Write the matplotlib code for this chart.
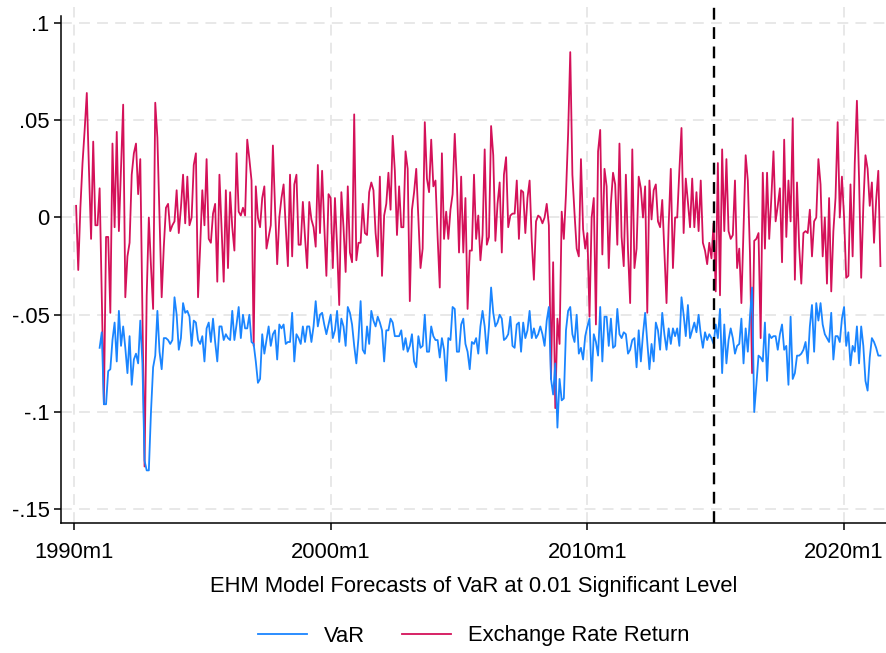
import matplotlib
matplotlib.use("Agg")
import matplotlib.pyplot as plt
import numpy as np

# ---- data (monthly, month index 0 = 1990m1) ----
ret_start = 1   # 1990m2
ret = [
 0.006,-0.027,0.005,0.028,0.045,0.064,0.025,-0.011,0.039,-0.004,
 -0.004,0.015,-0.040,-0.096,-0.010,-0.010,-0.049,0.038,-0.005,0.044,
 -0.007,0.025,0.058,-0.041,-0.020,-0.013,0.022,0.033,0.038,0.012,
 0.030,-0.050,-0.128,-0.040,0.000,-0.025,-0.047,0.059,0.041,0.000,
 -0.041,-0.015,0.005,0.007,-0.007,-0.004,-0.002,0.014,-0.008,0.005,
 0.022,-0.003,0.021,-0.004,0.000,0.027,0.033,-0.041,-0.015,0.014,
 -0.004,0.030,-0.011,-0.013,0.002,0.007,-0.033,0.022,-0.005,-0.033,
 0.014,-0.026,0.013,-0.005,-0.017,0.033,0.003,0.001,0.005,0.001,
 0.040,0.030,0.019,-0.066,0.016,0.000,-0.005,0.010,0.016,-0.016,
 -0.010,-0.004,0.037,0.005,-0.024,0.000,0.010,0.017,-0.005,-0.025,
 0.022,-0.020,0.017,0.022,-0.014,-0.014,0.008,-0.010,-0.026,0.008,
 -0.001,-0.005,-0.015,0.027,-0.008,0.024,-0.004,-0.030,0.012,0.010,
 -0.026,0.010,-0.015,-0.045,0.013,-0.005,-0.028,0.016,-0.018,-0.023,
 0.053,-0.022,-0.013,-0.013,0.007,-0.008,-0.009,0.013,0.018,0.014,
 -0.008,-0.020,0.021,-0.030,0.001,0.007,0.023,0.004,0.042,0.024,
 -0.009,0.016,-0.005,-0.005,0.034,0.025,-0.043,0.004,0.013,0.025,
 -0.001,-0.026,-0.016,0.049,0.020,0.013,0.040,0.016,0.019,-0.010,
 -0.036,0.033,-0.011,0.003,-0.011,0.004,0.012,0.043,0.018,-0.018,
 0.021,-0.018,0.010,-0.047,-0.017,-0.017,0.022,-0.011,0.001,-0.022,
 -0.009,0.035,-0.014,-0.010,0.047,0.032,-0.012,0.007,0.018,-0.018,
 0.022,0.031,-0.005,0.001,0.002,0.002,0.019,-0.011,0.014,0.013,
 -0.008,0.010,0.019,-0.012,-0.032,-0.002,0.001,0.000,-0.003,0.000,
 0.007,-0.004,-0.083,-0.023,-0.098,-0.052,-0.065,0.003,-0.011,0.012,
 0.043,0.085,0.022,0.002,-0.016,-0.020,0.030,-0.006,-0.016,-0.008,
 -0.051,0.000,0.010,-0.055,0.034,0.045,-0.019,0.025,0.016,-0.026,
 0.007,0.023,0.017,-0.014,0.038,-0.010,-0.025,0.022,-0.017,-0.044,
 0.035,-0.026,-0.016,0.021,0.015,0.000,0.016,-0.049,0.019,-0.001,
 0.014,0.017,-0.002,-0.005,0.009,-0.017,-0.044,-0.004,0.025,-0.026,
 0.000,0.000,0.024,0.046,-0.008,0.020,0.008,-0.005,0.020,-0.005,
 0.013,-0.007,0.019,-0.013,-0.017,-0.024,-0.013,-0.021,-0.003,-0.038,
 0.028,-0.040,0.035,-0.007,0.030,-0.007,-0.011,-0.009,0.019,-0.026,
 -0.016,-0.044,-0.006,0.032,0.019,-0.018,-0.080,-0.012,-0.011,-0.008,
 -0.062,0.023,-0.016,0.023,-0.011,0.010,0.034,-0.002,0.006,0.015,
 -0.023,0.040,-0.010,0.019,-0.002,0.051,-0.032,0.018,-0.015,-0.034,
 -0.008,-0.007,-0.008,0.004,-0.020,-0.002,0.000,0.030,0.017,-0.020,
 0.000,-0.034,0.010,-0.038,-0.007,0.010,0.049,0.000,0.021,0.000,
 -0.031,-0.030,0.017,-0.020,0.028,0.060,0.020,-0.031,0.006,0.032,
 0.025,0.006,0.018,-0.013,0.009,0.024,-0.025,
]

var_start = 12  # 1991m1
var = [
 -0.067,-0.059,-0.096,-0.096,-0.079,-0.078,-0.063,-0.054,-0.074,-0.048,
 -0.066,-0.056,-0.067,-0.080,-0.061,-0.086,-0.073,-0.070,-0.075,-0.053,
 -0.075,-0.125,-0.130,-0.130,-0.100,-0.077,-0.071,-0.048,-0.069,-0.078,
 -0.062,-0.062,-0.063,-0.065,-0.063,-0.041,-0.050,-0.068,-0.062,-0.044,
 -0.049,-0.048,-0.051,-0.066,-0.053,-0.054,-0.063,-0.065,-0.061,-0.074,
 -0.057,-0.054,-0.064,-0.052,-0.064,-0.074,-0.056,-0.056,-0.063,-0.060,
 -0.062,-0.063,-0.048,-0.063,-0.055,-0.046,-0.062,-0.050,-0.057,-0.057,
 -0.050,-0.064,-0.065,-0.074,-0.085,-0.083,-0.060,-0.070,-0.063,-0.056,
 -0.066,-0.060,-0.058,-0.073,-0.055,-0.057,-0.055,-0.065,-0.064,-0.064,
 -0.049,-0.074,-0.060,-0.062,-0.065,-0.056,-0.064,-0.056,-0.056,-0.064,
 -0.056,-0.043,-0.056,-0.050,-0.049,-0.055,-0.060,-0.055,-0.050,-0.062,
 -0.058,-0.048,-0.064,-0.052,-0.056,-0.066,-0.046,-0.049,-0.055,-0.066,
 -0.075,-0.062,-0.043,-0.068,-0.070,-0.056,-0.065,-0.048,-0.053,-0.056,
 -0.051,-0.054,-0.058,-0.074,-0.058,-0.058,-0.052,-0.054,-0.061,-0.061,
 -0.061,-0.058,-0.068,-0.062,-0.069,-0.066,-0.060,-0.074,-0.077,-0.061,
 -0.067,-0.066,-0.050,-0.069,-0.069,-0.056,-0.061,-0.063,-0.063,-0.072,
 -0.062,-0.068,-0.084,-0.062,-0.063,-0.046,-0.047,-0.069,-0.069,-0.055,
 -0.052,-0.065,-0.069,-0.078,-0.064,-0.065,-0.062,-0.070,-0.056,-0.048,
 -0.056,-0.070,-0.056,-0.036,-0.049,-0.056,-0.054,-0.050,-0.052,-0.063,
 -0.062,-0.060,-0.051,-0.066,-0.067,-0.055,-0.054,-0.069,-0.054,-0.062,
 -0.058,-0.048,-0.062,-0.057,-0.062,-0.060,-0.056,-0.060,-0.066,-0.053,
 -0.046,-0.083,-0.091,-0.075,-0.108,-0.083,-0.094,-0.093,-0.058,-0.048,
 -0.046,-0.060,-0.064,-0.050,-0.070,-0.067,-0.073,-0.061,-0.056,-0.052,
 -0.084,-0.060,-0.064,-0.071,-0.046,-0.074,-0.051,-0.051,-0.066,-0.052,
 -0.067,-0.066,-0.047,-0.060,-0.062,-0.059,-0.060,-0.070,-0.068,-0.063,
 -0.062,-0.077,-0.058,-0.074,-0.060,-0.049,-0.064,-0.078,-0.065,-0.074,
 -0.054,-0.058,-0.068,-0.049,-0.060,-0.068,-0.057,-0.065,-0.057,-0.061,
 -0.057,-0.066,-0.041,-0.050,-0.061,-0.045,-0.062,-0.058,-0.054,-0.059,
 -0.050,-0.060,-0.067,-0.059,-0.063,-0.060,-0.062,-0.065,-0.055,-0.062,
 -0.047,-0.080,-0.055,-0.075,-0.063,-0.057,-0.062,-0.070,-0.066,-0.065,
 -0.052,-0.075,-0.057,-0.069,-0.051,-0.036,-0.100,-0.086,-0.071,-0.072,
 -0.074,-0.054,-0.084,-0.060,-0.062,-0.061,-0.061,-0.068,-0.060,-0.055,
 -0.068,-0.066,-0.086,-0.051,-0.083,-0.080,-0.071,-0.071,-0.070,-0.068,
 -0.064,-0.075,-0.056,-0.045,-0.069,-0.044,-0.053,-0.044,-0.055,-0.060,
 -0.062,-0.064,-0.049,-0.073,-0.061,-0.061,-0.064,-0.052,-0.046,-0.066,
 -0.059,-0.076,-0.066,-0.069,-0.056,-0.075,-0.056,-0.066,-0.084,-0.089,
 -0.072,-0.062,-0.064,-0.067,-0.071,-0.071,
]

split_month = 299          # dashed reference line (2014m12)
xtick_months = [0, 120, 240, 360]
xtick_labels = ["1990m1", "2000m1", "2010m1", "2020m1"]
ytick_vals = [0.1, 0.05, 0, -0.05, -0.1, -0.15]
ytick_labels = [".1", ".05", "0", "-.05", "-.1", "-.15"]

c_var = "#1a85ff"
c_ret = "#d41159"

plt.rcParams['font.family'] = ['Liberation Sans', 'DejaVu Sans']
FS = 15.8

fig = plt.figure(figsize=(8.86, 6.53), dpi=100)
W, H = 886, 653
left_px, right_px, top_px, bot_px = 60.7, 886, 7, 523.3
ax = fig.add_axes([left_px / W, 1 - bot_px / H, (right_px - left_px) / W, (bot_px - top_px) / H])

x_ret = np.arange(ret_start, ret_start + len(ret))
x_var = np.arange(var_start, var_start + len(var))

ax.plot(x_var, var, color=c_var, lw=1.3, label="VaR", zorder=3)
ax.plot(x_ret, ret, color=c_ret, lw=1.3, label="Exchange Rate Return", zorder=2)
ax.axvline(split_month, color="black", lw=1.7, ls=(0, (5, 3.2)), zorder=4)

ax.set_xlim(-6.2, 379.6)
ax.set_ylim(-0.1572, 0.1082)

ax.set_xticks(xtick_months)
ax.set_xticklabels(xtick_labels)
ax.set_yticks(ytick_vals)
ax.set_yticklabels(ytick_labels)

ax.grid(True, color="#e6e6e6", lw=1.3, ls=(0, (6, 4)), zorder=0)
for s in ["top", "right"]:
    ax.spines[s].set_visible(False)
ax.spines["left"].set_bounds(-0.1572, 0.1035)
for s in ["left", "bottom"]:
    ax.spines[s].set_linewidth(1.1)

ax.tick_params(axis="both", direction="out", length=5, width=1.1, labelsize=FS, colors="black")
ax.tick_params(axis="x", pad=8.5)
ax.tick_params(axis="y", pad=3)

ax.set_xlabel("EHM Model Forecasts of VaR at 0.01 Significant Level", fontsize=FS, labelpad=9)

handles, labels = ax.get_legend_handles_labels()
fig.legend(handles, labels, loc="center", bbox_to_anchor=(473.5 / W, 1 - 636 / H), ncol=2,
           frameon=False, fontsize=FS, handlelength=2.25, columnspacing=1.7, handletextpad=0.75)

fig.savefig("out.png", dpi=100)
